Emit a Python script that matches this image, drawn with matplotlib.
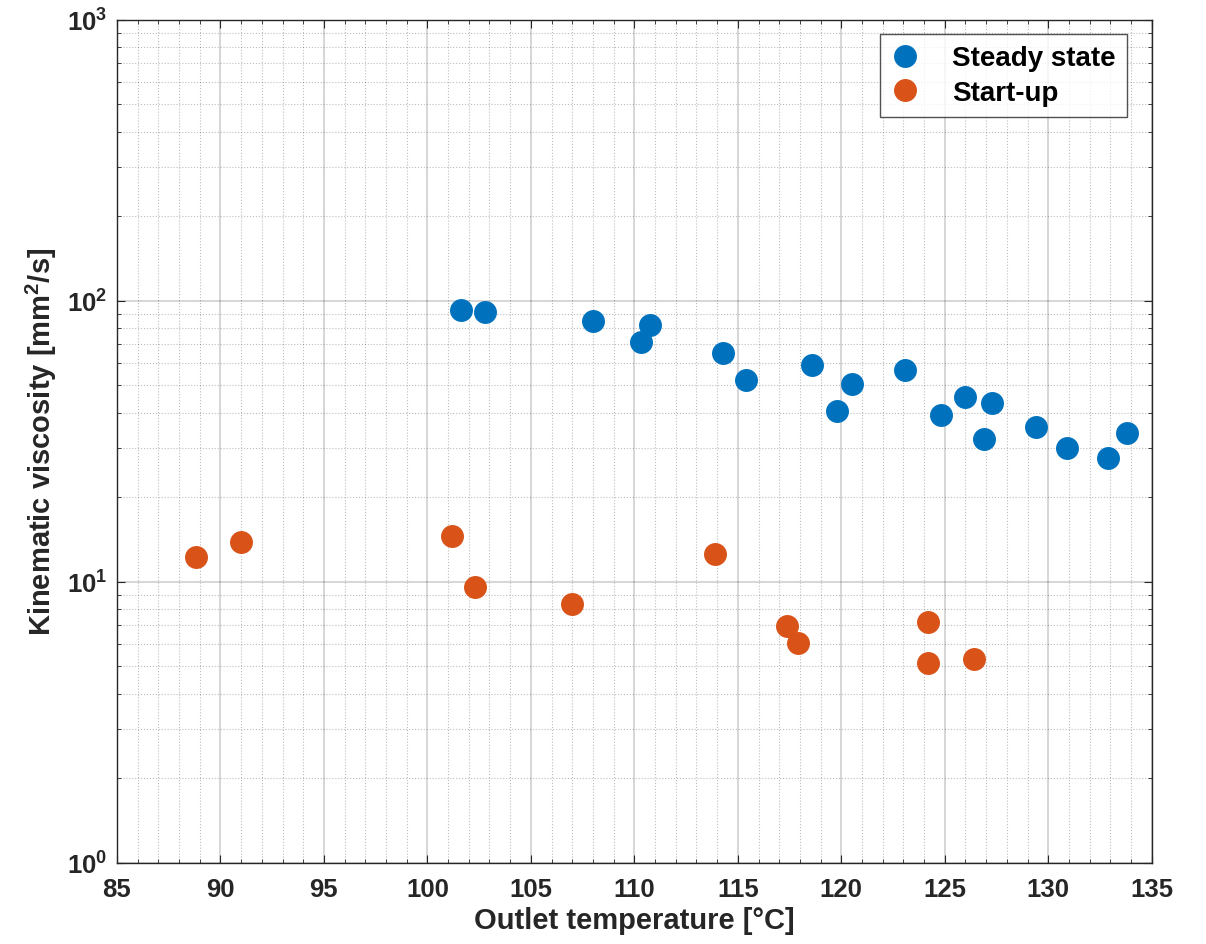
import matplotlib
matplotlib.use('Agg')
import matplotlib.pyplot as plt
from matplotlib.ticker import LogLocator, MultipleLocator, NullFormatter

plt.rcParams['font.family'] = ['Liberation Sans', 'DejaVu Sans']
plt.rcParams['font.weight'] = 'bold'
plt.rcParams['mathtext.fontset'] = 'custom'
plt.rcParams['mathtext.rm'] = 'Liberation Sans:bold'
plt.rcParams['mathtext.bf'] = 'Liberation Sans:bold'
plt.rcParams['mathtext.it'] = 'Liberation Sans:bold'

# steady state points
steady_temp = [101.6, 102.8, 108.0, 110.3, 110.75, 114.3, 115.4, 118.6, 119.8, 120.5,
               123.1, 124.8, 126.0, 126.9, 127.3, 129.4, 130.9, 132.9, 133.8]
steady_visc = [92.9, 91.4, 84.9, 71.5, 82.2, 65.3, 52.4, 59.2, 40.6, 50.7,
               56.8, 39.3, 45.5, 32.3, 43.4, 35.6, 30.0, 27.6, 33.9]

# start-up points
startup_temp = [88.8, 91.0, 101.2, 102.3, 107.0, 113.9, 117.4, 117.9, 124.2, 124.2, 126.4]
startup_visc = [12.2, 13.9, 14.6, 9.6, 8.35, 12.6, 6.97, 6.07, 7.2, 5.15, 5.32]

xticks = [85, 90, 95, 100, 105, 110, 115, 120, 125, 130, 135]
yticks = [1, 10, 100, 1000]
ytick_labels = [r'$10^{0}$', r'$10^{1}$', r'$10^{2}$', r'$10^{3}$']

fig = plt.figure(figsize=(12.06, 9.45), dpi=100)
ax = fig.add_axes([0.097, 0.086, 0.858, 0.892])

ax.plot(steady_temp, steady_visc, 'o', color='#0072BD', markersize=15.5, label='Steady state', zorder=3)
ax.plot(startup_temp, startup_visc, 'o', color='#D95319', markersize=15.5, label='Start-up', zorder=3)

ax.set_yscale('log')
ax.set_xlim(85, 135)
ax.set_ylim(1, 1000)
ax.set_xticks(xticks)
ax.xaxis.set_minor_locator(MultipleLocator(1))
ax.yaxis.set_minor_locator(LogLocator(base=10, subs=range(2, 10), numticks=20))
ax.yaxis.set_minor_formatter(NullFormatter())
ax.set_yticks(yticks)
ax.set_yticklabels(ytick_labels)

ax.grid(True, which='major', color='#262626', alpha=0.2, linewidth=1.3, linestyle='-')
ax.grid(True, which='minor', color='#262626', alpha=0.3, linewidth=0.8, linestyle=':')
ax.set_axisbelow(True)

ax.tick_params(which='both', direction='in', top=True, right=True, labelsize=18.5, colors='#262626')
ax.tick_params(which='major', length=6)
ax.tick_params(which='minor', length=3)
ax.tick_params(axis='x', pad=10)
ax.tick_params(axis='y', pad=7)
for s in ax.spines.values():
    s.set_color('#262626')
    s.set_linewidth(1.0)

ax.set_xlabel('Outlet temperature [°C]', fontsize=21, fontweight='bold', color='#262626', labelpad=4)
ax.set_ylabel(r'Kinematic viscosity [mm$^{2}$/s]', fontsize=21, fontweight='bold', color='#262626', labelpad=6)

leg = ax.legend(loc='upper right', bbox_to_anchor=(0.976, 0.983), borderaxespad=0,
                fontsize=20, frameon=True, fancybox=False, edgecolor='#262626',
                handlelength=1.0, handletextpad=1.2, borderpad=0.4, labelspacing=0.3)
leg.get_frame().set_linewidth(1.0)

fig.savefig('out.png', dpi=100)
